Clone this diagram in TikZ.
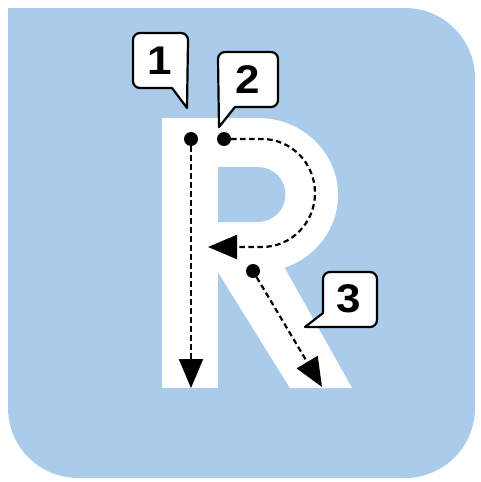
\documentclass[tikz,border=0pt]{standalone}
\usepackage{fontspec}
\setmainfont{Liberation Sans}
\usetikzlibrary{arrows.meta}
\definecolor{bgblue}{RGB}{170,204,234}
\tikzset{
  letter/.style={fill=white},
  dashline/.style={line width=2.2pt, dash pattern=on 5.5pt off 3.5pt, -{Triangle[length=29pt,width=24pt]}},
  dot/.style={circle, fill=black, inner sep=0pt, minimum size=14pt},
  bubble/.style={draw=black, fill=white, line width=2.2pt, line join=round},
  digit/.style={inner sep=0pt, font=\fontsize{40}{40}\selectfont\bfseries, xscale=1.1}
}
\begin{document}
\begin{tikzpicture}[x=1pt,y=-1pt]
\useasboundingbox (0,0) rectangle (480,482);
% background
\fill[bgblue] (8,8) -- (405,8) arc[start angle=-90,end angle=0,radius=70] -- (475,408)
  arc[start angle=0,end angle=90,radius=70] -- (78,478) arc[start angle=90,end angle=180,radius=70] -- cycle;
% letter R
\fill[letter] (162,118) -- (258,118) arc[start angle=-90,end angle=90,x radius=80,y radius=77] -- (162,272) -- cycle;
\fill[letter] (162,118) rectangle (218,388);
\fill[letter] (198,240) -- (269,240) -- (352,388) -- (290,388) -- cycle;
\fill[bgblue] (218,167) -- (258,167) arc[start angle=-90,end angle=90,radius=27.5] -- (218,222) -- cycle;
% dots and targets
\node[dot] (d1) at (191,139) {};
\node[dot] (d2) at (224,139) {};
\node[dot] (d3) at (253,271) {};
\coordinate (t1) at (191,388);
\coordinate (t2) at (208,247);
\coordinate (t3) at (322,387);
% strokes
\draw[dashline] (d1) -- (t1);
\draw[dashline] (d2) -- (262,139) arc[start angle=-90,end angle=90,x radius=53,y radius=54] -- (t2);
\draw[dashline] (d3) -- (t3);
% callout 1
\draw[bubble] (187,108) -- (172,88) -- (140,88) arc[start angle=90,end angle=180,radius=7]
  -- (133,40) arc[start angle=180,end angle=270,radius=7] -- (181,33)
  arc[start angle=270,end angle=360,radius=7] -- cycle;
\node[digit] (n1) at (160,61) {1};
% callout 2
\draw[bubble] (219,127) -- (218,59) arc[start angle=180,end angle=270,radius=7] -- (271,52)
  arc[start angle=270,end angle=360,radius=7] -- (278,100) arc[start angle=0,end angle=90,radius=7]
  -- (235,107) -- cycle;
\node[digit] (n2) at (248,80) {2};
% callout 3
\draw[bubble] (305,327) -- (323,313) -- (323,279) arc[start angle=180,end angle=270,radius=7] -- (370,272)
  arc[start angle=270,end angle=360,radius=7] -- (377,320) arc[start angle=0,end angle=90,radius=7] -- cycle;
\node[digit] (n3) at (349,299) {3};
\end{tikzpicture}
\end{document}
